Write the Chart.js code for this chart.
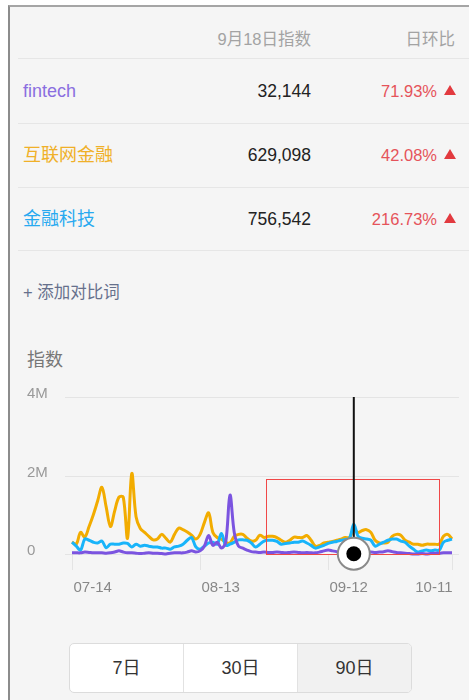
<!DOCTYPE html>
<html>
<head>
<meta charset="utf-8">
<script src="https://cdn.jsdelivr.net/npm/chart.js@4.4.1/dist/chart.umd.min.js"></script>
<style>
  body { margin: 0; width: 469px; height: 700px; background: #fff; position: relative; overflow: hidden;
         font-family: "Liberation Sans", "Noto Sans CJK SC", sans-serif; }
  #panel { position: absolute; left: 8px; top: 5px; right: 0; bottom: 0; background: #f5f5f5;
           border-left: 2px solid #8c8c8c; border-top: 2px solid #a5a5a5; }
  .t { position: absolute; white-space: nowrap; }
  .sep { position: absolute; left: 18px; right: 0; height: 1px; background: #e6e6e6; }
  .tri { position: absolute; width: 0; height: 0; border-left: 6px solid transparent;
         border-right: 6px solid transparent; border-bottom: 10px solid #e23a3f; }
  #chart { position: absolute; left: 0; top: 340px; }
  #seg { position: absolute; left: 69px; top: 643px; width: 341px; height: 48px; border: 1px solid #dcdcdc;
         border-radius: 5px; overflow: hidden; display: flex; background: #fff; }
  #seg div { flex: 1; text-align: center; line-height: 48px; font-size: 18px; color: #333; border-right: 1px solid #e2e2e2; }
  #seg div:last-child { border-right: none; background: #f1f1f1; }
</style>
</head>
<body>
<div id="panel"></div>

<div class="t" style="right:158px; top:28px; font-size:16.5px; color:#a3a3a3; line-height:22px;">9月18日指数</div>
<div class="t" style="right:14px; top:28px; font-size:16.5px; color:#a3a3a3; line-height:22px;">日环比</div>
<div class="sep" style="top:58px"></div>
<div class="sep" style="top:123px"></div>
<div class="sep" style="top:187px"></div>
<div class="sep" style="top:250px"></div>

<div id="rows"></div>

<div class="t" style="left:23px; top:280px; font-size:16.5px; color:#66708c; line-height:24px;">+ 添加对比词</div>
<div class="t" style="left:27px; top:348px; font-size:18px; color:#777; line-height:24px;">指数</div>

<canvas id="chart" width="469" height="260"></canvas>

<div id="seg"><div>7日</div><div>30日</div><div>90日</div></div>

<script>
// table rows
const names = ['fintech', '互联网金融', '金融科技'];
const nameColors = ['#8a6ee0', '#f0b028', '#27a9f0'];
const todayValues = ['32,144', '629,098', '756,542'];
const dayChange = ['71.93%', '42.08%', '216.73%'];
const rowCenters = [91, 155, 219];

// series, in millions, 07-14 .. 10-11
const fintech = [
  0.03,0.03,0.03,0.05,0.04,0.03,0.03,0.03,0.02,0.03,
  0.05,0.08,0.05,0.03,0.03,0.02,0.01,0.02,0.03,0.02,
  0.02,0.01,0.0,0.02,0.03,0.03,0.03,0.05,0.08,0.05,
  0.08,0.2,0.47,0.22,0.3,0.15,0.3,1.5,0.55,0.2,
  0.15,0.1,0.06,0.05,0.04,0.05,0.04,0.04,0.05,0.04,
  0.03,0.04,0.05,0.04,0.03,0.04,0.03,0.03,0.05,0.08,
  0.1,0.08,0.06,0.05,0.04,0.03,0.032,0.03,0.03,0.04,
  0.05,0.04,0.05,0.06,0.08,0.06,0.04,0.03,0.02,0.01,
  0.0,0.0,0.01,0.0,0.01,0.02,0.02,0.03,0.03,0.03
];
const internetFinance = [
  0.3,0.25,0.55,0.43,0.7,1.0,1.35,1.7,1.2,0.7,
  1.1,1.45,1.45,0.4,2.05,0.95,0.65,0.55,0.45,0.36,
  0.38,0.5,0.4,0.3,0.5,0.66,0.62,0.56,0.48,0.38,
  0.5,0.8,1.05,0.55,0.42,0.38,0.3,0.28,0.45,0.5,
  0.5,0.4,0.33,0.35,0.48,0.42,0.45,0.45,0.42,0.35,
  0.3,0.35,0.43,0.42,0.42,0.47,0.35,0.2,0.22,0.28,
  0.3,0.32,0.35,0.38,0.42,0.42,0.63,0.55,0.6,0.62,
  0.55,0.35,0.28,0.28,0.3,0.45,0.5,0.48,0.35,0.3,
  0.25,0.25,0.22,0.25,0.25,0.25,0.25,0.45,0.5,0.38
];
const finTechCn = [
  0.3,0.2,0.1,0.38,0.35,0.3,0.28,0.33,0.16,0.25,
  0.25,0.25,0.28,0.27,0.18,0.25,0.2,0.22,0.2,0.18,
  0.18,0.15,0.15,0.12,0.18,0.2,0.25,0.35,0.42,0.18,
  0.12,0.2,0.28,0.3,0.25,0.52,0.22,0.25,0.3,0.36,
  0.36,0.35,0.28,0.18,0.25,0.33,0.35,0.35,0.32,0.25,
  0.27,0.28,0.3,0.3,0.33,0.28,0.22,0.15,0.18,0.22,
  0.27,0.3,0.32,0.35,0.37,0.4,0.76,0.45,0.4,0.38,
  0.35,0.2,0.25,0.3,0.35,0.38,0.38,0.33,0.3,0.2,
  0.12,0.05,0.08,0.1,0.08,0.1,0.1,0.3,0.35,0.38
];
const lineColors = ['#7b54e0', '#f2ac00', '#18b4fa'];

// axes
const yTicks = [0, 2, 4];
const yTickLabels = ['0', '2M', '4M'];
const xTickIndex = [0, 30, 60, 89];

// markers
const focusIndex = 66;          // 09-18
const selection = { from: 45.4, to: 86, top: 1.9 };

// date labels 07-14 ... 10-11
const labels = [];
for (let i = 0; i < fintech.length; i++) {
  const d = new Date(2018, 6, 14 + i);
  labels.push(String(d.getMonth() + 1).padStart(2, '0') + '-' + String(d.getDate()).padStart(2, '0'));
}

// build table rows
const rows = document.getElementById('rows');
names.forEach((n, i) => {
  const c = rowCenters[i];
  rows.insertAdjacentHTML('beforeend',
    `<div class="t" style="left:23px; top:${c - 13}px; font-size:18px; line-height:26px; color:${nameColors[i]}">${n}</div>` +
    `<div class="t" style="right:158px; top:${c - 12}px; font-size:17.5px; line-height:24px; color:#222">${todayValues[i]}</div>` +
    `<div class="t" style="right:32px; top:${c - 11}px; font-size:16.5px; line-height:22px; color:#e5535a">${dayChange[i]}</div>` +
    `<div class="tri" style="left:444px; top:${c - 6}px"></div>`);
});

const decor = {
  id: 'decor',
  beforeDatasetsDraw(chart) {
    const { ctx, chartArea, scales } = chart;
    const x = scales.x, y = scales.y;
    ctx.save();
    // grid lines + y labels
    ctx.strokeStyle = '#e4e4e4';
    ctx.lineWidth = 1;
    ctx.font = '15px "Liberation Sans", sans-serif';
    ctx.fillStyle = '#999';
    ctx.textBaseline = 'middle';
    ctx.textAlign = 'left';
    yTicks.forEach((v, i) => {
      const py = Math.round(y.getPixelForValue(v)) + 0.5;
      ctx.beginPath();
      ctx.moveTo(chartArea.left - 7, py);
      ctx.lineTo(chartArea.right + 7, py);
      ctx.stroke();
      ctx.fillText(yTickLabels[i], 27, py - 4);
    });
    // x tick marks + labels
    ctx.fillStyle = '#888';
    xTickIndex.forEach((idx, k) => {
      const px = Math.round(x.getPixelForValue(idx)) + 0.5;
      ctx.beginPath();
      ctx.moveTo(px, chartArea.bottom);
      ctx.lineTo(px, chartArea.bottom + 16);
      ctx.stroke();
      const last = k === xTickIndex.length - 1;
      ctx.textAlign = last ? 'right' : 'left';
      ctx.fillText(labels[idx], last ? px : px + 1, chartArea.bottom + 34);
    });
    ctx.restore();
  },
  afterDatasetsDraw(chart) {
    const { ctx, scales } = chart;
    const x = scales.x, y = scales.y;
    ctx.save();
    // selection box
    const x0 = x.getPixelForValue(selection.from), x1 = x.getPixelForValue(selection.to);
    const y0 = y.getPixelForValue(selection.top), y1 = y.getPixelForValue(0);
    ctx.strokeStyle = '#f04848';
    ctx.lineWidth = 1;
    ctx.strokeRect(Math.round(x0) + 0.5, Math.round(y0) + 0.5, Math.round(x1 - x0), Math.round(y1 - y0));
    // cursor line
    const fx = x.getPixelForValue(focusIndex);
    const fy = y.getPixelForValue(fintech[focusIndex]) + 1;
    ctx.strokeStyle = '#111';
    ctx.lineWidth = 2;
    ctx.beginPath();
    ctx.moveTo(fx, y.getPixelForValue(4));
    ctx.lineTo(fx, fy);
    ctx.stroke();
    // focus dot
    ctx.beginPath();
    ctx.arc(fx, fy, 16, 0, Math.PI * 2);
    ctx.fillStyle = '#fff';
    ctx.fill();
    ctx.strokeStyle = '#8a8a8a';
    ctx.lineWidth = 2;
    ctx.stroke();
    ctx.beginPath();
    ctx.arc(fx, fy, 7.5, 0, Math.PI * 2);
    ctx.fillStyle = '#000';
    ctx.fill();
    ctx.restore();
  }
};

const mk = (label, data, color, order) => ({
  label, data, borderColor: color, borderWidth: 3, pointRadius: 0,
  tension: 0.35, fill: false, clip: false, order
});

new Chart(document.getElementById('chart'), {
  type: 'line',
  data: {
    labels: labels,
    datasets: [
      mk(names[0], fintech, lineColors[0], 0),
      mk(names[2], finTechCn, lineColors[2], 1),
      mk(names[1], internetFinance, lineColors[1], 2)
    ]
  },
  options: {
    responsive: false,
    animation: false,
    devicePixelRatio: 1,
    layout: { padding: { left: 72, right: 17, top: 57, bottom: 46 } },
    plugins: { legend: { display: false }, tooltip: { enabled: false } },
    scales: {
      x: { display: false },
      y: { display: false, min: 0, max: 4 }
    }
  },
  plugins: [decor]
});
</script>
</body>
</html>
